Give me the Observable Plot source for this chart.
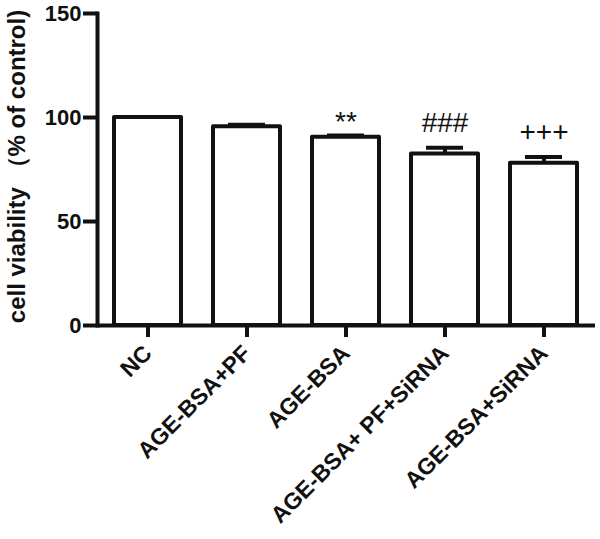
<!DOCTYPE html>
<html>
<head>
<meta charset="utf-8">
<script src="https://cdn.jsdelivr.net/npm/d3@7"></script>
<script src="https://cdn.jsdelivr.net/npm/@observablehq/plot@0.6"></script>
<style>
  body { margin: 0; background: #fff; }
</style>
</head>
<body>
<div id="chart"></div>
<script>
const groups = ["NC", "AGE-BSA+PF", "AGE-BSA", "AGE-BSA+ PF+SiRNA", "AGE-BSA+SiRNA"];
const means = [100, 95.5, 90.5, 82.5, 78];
const errors = [0, 1.0, 0.8, 3.0, 3.0];
const marks = ["", "", "**", "###", "+++"];
const yTicks = [0, 50, 100, 150];
const yLabel = "cell viability （% of control)";

const data = groups.map((g, i) => ({group: g, mean: means[i], err: errors[i], top: means[i] + errors[i], sig: marks[i]}));

const chart = Plot.plot({
  width: 600,
  height: 539,
  marginTop: 13,
  marginLeft: 97,
  marginRight: 5,
  marginBottom: 214,
  style: {fontFamily: "Liberation Sans, Arial, sans-serif", fontWeight: "bold", fontSize: "20px", color: "#111", background: "#fff"},
  x: {domain: groups, paddingInner: 0.32, paddingOuter: 0.16, align: 0.5, label: null},
  y: {domain: [0, 150], label: null},
  marks: [
    Plot.barY(data, {x: "group", y: "mean", fill: "white", stroke: "#111", strokeWidth: 4, strokeLinejoin: "round"}),
    Plot.ruleX(data.filter(d => d.err > 0), {x: "group", y1: "mean", y2: "top", stroke: "#111", strokeWidth: 4}),
    Plot.tickY(data.filter(d => d.err > 0), {x: "group", y: "top", stroke: "#111", strokeWidth: 4, insetLeft: 15, insetRight: 15}),
    Plot.text(data.filter(d => d.sig === "**"), {x: "group", y: "top", text: "sig", dy: -14, fontSize: 28, fontWeight: "normal", fill: "#111"}),
    Plot.text(data.filter(d => d.sig && d.sig !== "**"), {x: "group", y: "top", text: "sig", dy: -25, fontSize: 28, fontWeight: "normal", fill: "#111"}),
    Plot.ruleY([0], {stroke: "#111", strokeWidth: 4}),
    Plot.frame({anchor: "left", stroke: "#111", strokeWidth: 4}),
    Plot.axisY({ticks: yTicks, tickSize: 14, tickPadding: 2, strokeWidth: 4, fontSize: 22, fontWeight: "bold", label: null}),
    Plot.axisX({tickSize: 12, strokeWidth: 4, tickRotate: -45, fontSize: 23, fontWeight: "bold", tickPadding: 12, label: null}),
    Plot.text([yLabel], {frameAnchor: "left", textAnchor: "middle", rotate: -90, dx: -80, dy: -3, fontSize: 24, fontWeight: "bold", fill: "#111"})
  ]
});
document.getElementById("chart").appendChild(chart);
</script>
</body>
</html>
